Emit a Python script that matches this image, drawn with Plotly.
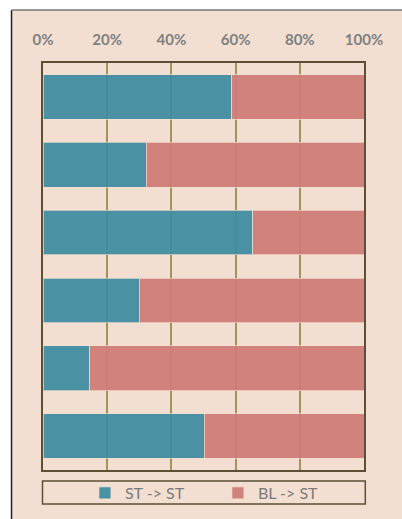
import plotly.graph_objects as go

categories = ["1", "2", "3", "4", "5", "6"]
st_st = [58.8, 32.2, 65.3, 30.0, 14.6, 50.3]
bl_st = [100 - v for v in st_st]
tick_vals = [0, 20, 40, 60, 80, 100]
tick_text = ["0%", "20%", "40%", "60%", "80%", "100%"]

BG = "#F2DFD1"
TEAL = "#3E8CA0"
PINK = "#D07C77"
FRAME = "#5C4F33"
GRID = "#A0935F"

fig = go.Figure()
fig.add_trace(go.Bar(y=categories, x=st_st, orientation="h", name="ST -> ST",
                     marker=dict(color=TEAL, line=dict(color="rgba(242,223,209,0.7)", width=1)),
                     opacity=0.93))
fig.add_trace(go.Bar(y=categories, x=bl_st, orientation="h", name="BL -> ST",
                     marker=dict(color=PINK, line=dict(color="rgba(242,223,209,0.7)", width=1)),
                     opacity=0.93))

L, R, T, B = 42.5, 38.3, 63, 49
pw = 402 - L - R
ph = 519 - T - B

def px(x):
    return (x - L) / pw

def py(y):
    return (519 - B - y) / ph

fig.update_layout(
    width=402, height=519,
    margin=dict(l=L, r=R, t=T, b=B, autoexpand=False),
    barmode="stack", bargap=0.34,
    paper_bgcolor="white", plot_bgcolor="rgba(0,0,0,0)",
    showlegend=True,
    legend=dict(orientation="h", x=0.545, xanchor="center", y=py(476), yanchor="top",
                entrywidth=88, entrywidthmode="pixels",
                font=dict(family="Lato", size=16, color="#7A7A7A"),
                bgcolor="rgba(0,0,0,0)", borderwidth=0, traceorder="normal"),
    xaxis=dict(range=[0, 100], side="top", tickvals=tick_vals, ticktext=tick_text,
               tickfont=dict(family="Lato", size=15, color="#808080", weight="bold"),
               ticklabelstandoff=10,
               showgrid=True, gridcolor=GRID, gridwidth=2,
               showline=True, linecolor=FRAME, linewidth=1.5, mirror=True,
               zeroline=False, ticks="", fixedrange=True),
    yaxis=dict(autorange="reversed", showticklabels=False, showgrid=False,
               showline=True, linecolor=FRAME, linewidth=1.5, mirror=True,
               ticks="", fixedrange=True),
    shapes=[
        dict(type="rect", xref="paper", yref="paper", layer="below",
             x0=px(11), x1=px(403), y0=py(520), y1=py(10),
             fillcolor=BG, line=dict(width=0)),
        dict(type="line", xref="paper", yref="paper", layer="below",
             x0=px(11), x1=px(11), y0=py(520), y1=py(10),
             line=dict(color="#222222", width=1.5)),
        dict(type="line", xref="paper", yref="paper", layer="below",
             x0=px(11), x1=px(403), y0=py(10), y1=py(10),
             line=dict(color="#777777", width=1.5)),
        dict(type="rect", xref="paper", yref="paper", layer="above",
             x0=px(42), x1=px(365), y0=py(504), y1=py(481),
             fillcolor="rgba(0,0,0,0)", line=dict(color=FRAME, width=1.5)),
    ],
)

fig.write_html("out.html", config={"displayModeBar": False},
               post_script="document.body.style.margin='0';")
